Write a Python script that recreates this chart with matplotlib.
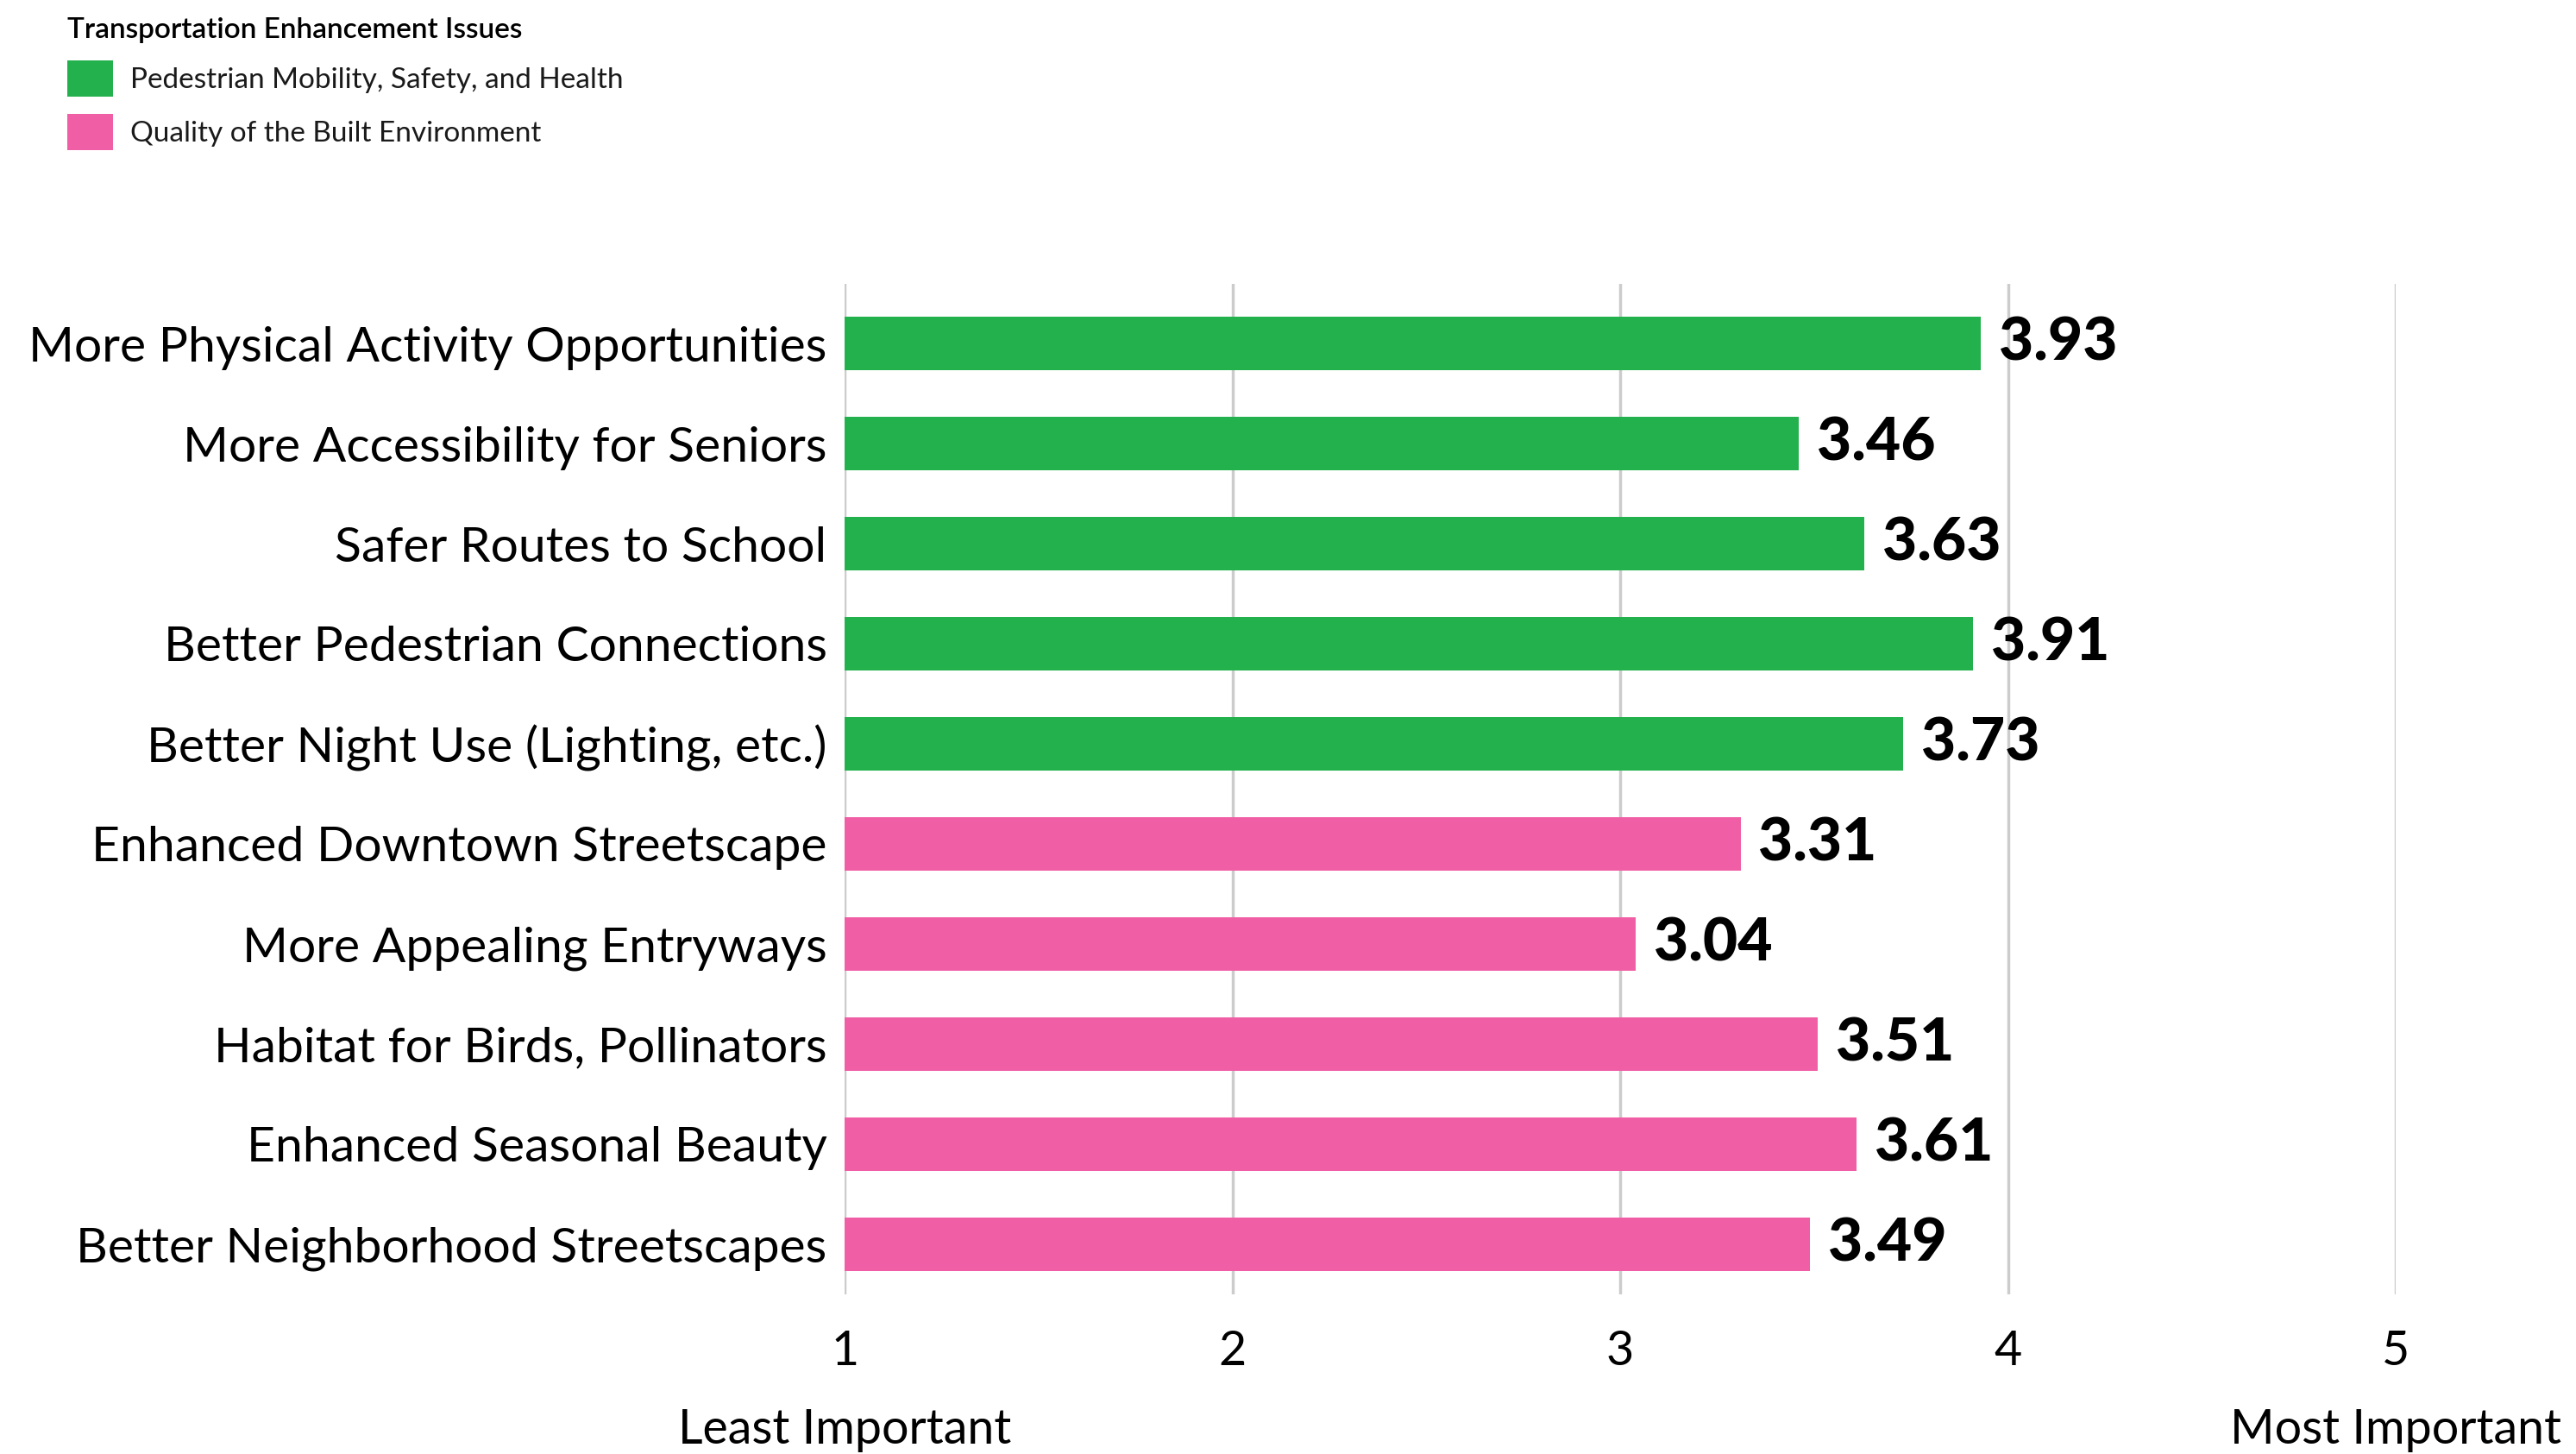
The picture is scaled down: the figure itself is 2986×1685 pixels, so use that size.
import numpy as np
import matplotlib.pyplot as plt
from matplotlib.patches import Patch

plt.rcParams['font.family'] = ['Lato', 'DejaVu Sans']

# Data
categories = [
    "More Physical Activity Opportunities",
    "More Accessibility for Seniors",
    "Safer Routes to School",
    "Better Pedestrian Connections",
    "Better Night Use (Lighting, etc.)",
    "Enhanced Downtown Streetscape",
    "More Appealing Entryways",
    "Habitat for Birds, Pollinators",
    "Enhanced Seasonal Beauty",
    "Better Neighborhood Streetscapes",
]
scores = [3.93, 3.46, 3.63, 3.91, 3.73, 3.31, 3.04, 3.51, 3.61, 3.49]
groups = ["Pedestrian Mobility, Safety, and Health"] * 5 + ["Quality of the Built Environment"] * 5
group_names = ["Pedestrian Mobility, Safety, and Health", "Quality of the Built Environment"]
group_colors = {"Pedestrian Mobility, Safety, and Health": "#22B14C",
                "Quality of the Built Environment": "#F05FA5"}
ticks = [1, 2, 3, 4, 5]
scale_ends = ["Least Important", "Most Important"]

fig = plt.figure(figsize=(29.86, 16.85), dpi=100)
ax = fig.add_axes([0.328, 0.110, 0.602, 0.695])

y = np.arange(len(categories))
colors = [group_colors[g] for g in groups]
ax.barh(y, scores, height=0.535, color=colors, zorder=2)

# value labels
for yi, s in zip(y, scores):
    ax.annotate(f"{s:.2f}", xy=(s, yi), xytext=(15, 0), textcoords="offset points",
                va="center", ha="left", fontsize=50, fontweight="black", color="black")

ax.set_xlim(1, 5)
ax.set_ylim(9.5, -0.6)
ax.set_xticks(ticks)
ax.set_xticklabels([str(t) for t in ticks])
ax.set_yticks(y)
ax.set_yticklabels(categories)
ax.tick_params(axis="x", length=0, pad=30, labelsize=40)
ax.tick_params(axis="y", length=0, pad=15, labelsize=41)
ax.grid(axis="x", color="#cccccc", linewidth=2.5, zorder=0)
ax.set_axisbelow(True)
for sp in ax.spines.values():
    sp.set_visible(False)

# Least / Most Important labels under the ends of the scale
trans = ax.get_xaxis_transform()
ax.text(1, -0.135, scale_ends[0], transform=trans, ha="center", va="center", fontsize=40)
ax.text(5, -0.135, scale_ends[1], transform=trans, ha="center", va="center", fontsize=40)

# Legend
handles = [Patch(facecolor=group_colors[g], edgecolor="none", label=g) for g in group_names]
leg = fig.legend(handles=handles, loc="upper left", bbox_to_anchor=(0.026, 0.988),
                 title="Transportation Enhancement Issues",
                 title_fontproperties={"size": 24, "weight": "semibold"},
                 fontsize=24, frameon=False, handlelength=1.6, handleheight=1.55,
                 handletextpad=0.6, labelspacing=0.6, borderaxespad=0, borderpad=0)
leg._legend_box.align = "left"
for t in leg.get_texts():
    t.set_fontweight("normal")
    t.set_color("#1a1a1a")

fig.savefig("out.png", dpi=100)
